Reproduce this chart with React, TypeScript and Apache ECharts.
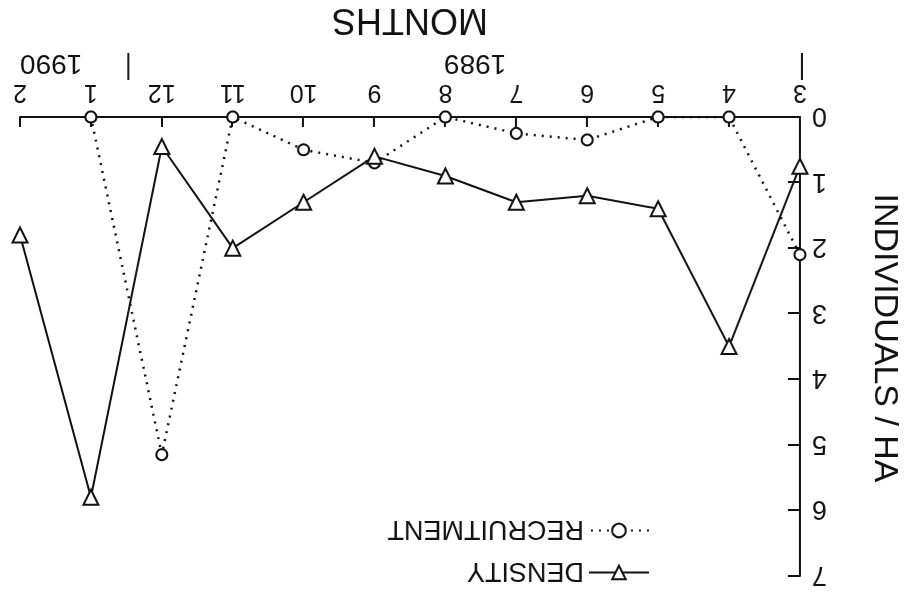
import React, { useEffect, useRef } from "react";
import * as echarts from "echarts";

// Sampling months, March 1989 through February 1990
const months = ["3", "4", "5", "6", "7", "8", "9", "10", "11", "12", "1", "2"];
// Individuals per hectare
const density = [0.75, 3.5, 1.4, 1.2, 1.3, 0.9, 0.6, 1.3, 2.0, 0.45, 5.8, 1.8];
const recruitment: (number | null)[] = [2.1, 0, 0, 0.35, 0.25, 0, 0.7, 0.5, 0, 5.15, 0, null];
const yMin = 0;
const yMax = 7;
const yStep = 1;
// Year spans: label and the category range (in index units) it covers
const yearSpans = [
  { label: "1989", from: 0, to: 9.5, shift: -12 },
  { label: "1990", from: 9.5, to: 11, shift: 22 },
];
const yearBreaks = [0, 9.5];

const FONT = "Liberation Sans";
const INK = "#111";

const GRID = { left: 105, right: 20, top: 19, bottom: 117 };
const W = 905;
const H = 595;

export default function App() {
  const ref = useRef<HTMLDivElement>(null);

  useEffect(() => {
    if (!ref.current) return;
    const chart = echarts.init(ref.current, undefined, { renderer: "svg" });

    const plotW = W - GRID.left - GRID.right;
    const step = plotW / (months.length - 1);
    const xAt = (i: number) => GRID.left + i * step;
    const axisY = H - GRID.bottom;

    const graphic: any[] = [];
    yearSpans.forEach((s) => {
      graphic.push({
        type: "text",
        x: xAt((s.from + s.to) / 2) + s.shift,
        y: axisY + 52,
        style: {
          text: s.label,
          fill: INK,
          fontSize: 28,
          fontFamily: FONT,
          align: "center",
          verticalAlign: "middle",
        },
      });
    });
    yearBreaks.forEach((b) => {
      graphic.push({
        type: "line",
        shape: { x1: xAt(b) - 2, y1: axisY + 37, x2: xAt(b) - 2, y2: axisY + 64 },
        style: { stroke: INK, lineWidth: 2 },
      });
    });
    graphic.push({
      type: "text",
      x: GRID.left + plotW / 2,
      y: H - 22,
      style: {
        text: "MONTHS",
        fill: INK,
        fontSize: 36,
        fontFamily: FONT,
        align: "center",
        verticalAlign: "middle",
      },
    });
    graphic.push({
      type: "text",
      x: 18,
      y: 257,
      rotation: Math.PI / 2,
      style: {
        text: "INDIVIDUALS / HA",
        fill: INK,
        fontSize: 34,
        fontFamily: FONT,
        align: "center",
        verticalAlign: "middle",
      },
    });

    chart.setOption({
      animation: false,
      backgroundColor: "#fff",
      grid: GRID,
      legend: {
        orient: "vertical",
        left: 250,
        top: 4,
        itemWidth: 60,
        itemHeight: 17,
        itemGap: 15,
        data: ["DENSITY", "RECRUITMENT"],
        textStyle: { color: INK, fontSize: 27, fontFamily: FONT },
        selectedMode: false,
      },
      xAxis: {
        type: "category",
        data: months,
        boundaryGap: false,
        axisLine: { lineStyle: { color: INK, width: 2 } },
        axisTick: { inside: true, length: 10, lineStyle: { color: INK, width: 2 } },
        axisLabel: { color: INK, fontSize: 25, fontFamily: FONT, margin: 10 },
      },
      yAxis: {
        type: "value",
        min: yMin,
        max: yMax,
        interval: yStep,
        splitLine: { show: false },
        axisLine: { show: true, lineStyle: { color: INK, width: 2 } },
        axisTick: { show: true, inside: true, length: 12, lineStyle: { color: INK, width: 2 } },
        axisLabel: { color: INK, fontSize: 27, fontFamily: FONT, margin: 12 },
      },
      series: [
        {
          name: "DENSITY",
          type: "line",
          data: density,
          symbol: "triangle",
          symbolRotate: 180,
          symbolSize: 15,
          itemStyle: { color: "#fff", borderColor: INK, borderWidth: 2 },
          lineStyle: { color: INK, width: 2 },
          emphasis: { disabled: true },
          z: 3,
        },
        {
          name: "RECRUITMENT",
          type: "line",
          data: recruitment,
          connectNulls: false,
          symbol: "circle",
          symbolSize: 11,
          itemStyle: { color: "#fff", borderColor: INK, borderWidth: 2 },
          lineStyle: { color: INK, width: 2.5, type: [2, 6] },
          emphasis: { disabled: true },
          z: 2,
        },
      ],
      graphic,
    });

    return () => chart.dispose();
  }, []);

  return (
    <div
      ref={ref}
      style={{
        position: "fixed",
        left: 0,
        top: 0,
        width: W,
        height: H,
        background: "#fff",
        transform: "rotate(180deg)",
      }}
    />
  );
}
